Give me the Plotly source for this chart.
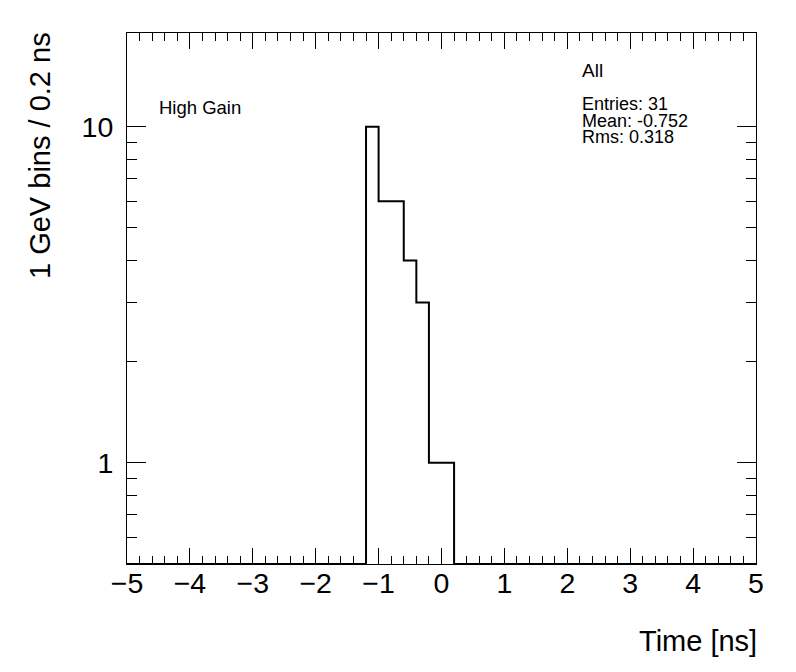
import numpy as np
import plotly.graph_objects as go

# ---- data ----
bin_width = 0.2
x_min, x_max = -5.0, 5.0
bin_lows = [-1.2, -1.0, -0.8, -0.6, -0.4, -0.2, 0.0]
counts = [10, 6, 6, 4, 3, 1, 1]
y_min, y_max = 0.5, 19.0
x_tick_vals = [-5, -4, -3, -2, -1, 0, 1, 2, 3, 4, 5]
y_tick_vals = [1, 10]
y_tick_text = ["1", "10"]
y_minor_vals = [0.6, 0.7, 0.8, 0.9, 2, 3, 4, 5, 6, 7, 8, 9]
label_title = "High Gain"
stats_title = "All"
stats_lines = ["Entries: 31", "Mean: -0.752", "Rms: 0.318"]
x_title = "Time [ns]"
y_title = "1 GeV bins / 0.2 ns"

# ---- build histogram step ----
n_bins = int(round((x_max - x_min) / bin_width))
edges = x_min + bin_width * np.arange(n_bins + 1)
full = np.zeros(n_bins)
for lo, c in zip(bin_lows, counts):
    full[int(round((lo - x_min) / bin_width))] = c
shown = np.where(full > 0, full, y_min)
ys = np.append(shown, shown[-1])

FONT = "Liberation Sans, Arial, Helvetica, sans-serif"

# page offset of the figure (default body margin)
OFF = 8
L, T, R, B = 127, 33, 756, 564  # desired frame in window pixels
W, H = 796, 672
PW, PH = R - L, B - T

fig = go.Figure()
fig.add_trace(go.Scatter(
    x=edges, y=ys, mode="lines", line=dict(shape="hv", color="black", width=2),
    showlegend=False, hoverinfo="skip"))

fig.update_layout(
    width=W, height=H,
    margin=dict(l=L - OFF, r=W + OFF - R, t=T - OFF, b=H + OFF - B),
    paper_bgcolor="white", plot_bgcolor="white",
    font=dict(family=FONT, color="black"),
    showlegend=False,
)
fig.update_xaxes(
    range=[x_min, x_max], tickvals=x_tick_vals,
    showline=True, linecolor="black", linewidth=1, mirror="allticks",
    ticks="inside", ticklen=16, tickwidth=1, tickcolor="black",
    showgrid=False, zeroline=False,
    tickfont=dict(size=28.5, family=FONT, color="black"),
    ticklabelstandoff=-6,
    minor=dict(ticks="inside", dtick=bin_width, tick0=x_min, ticklen=8,
               tickwidth=1, tickcolor="black", showgrid=False),
)
fig.update_yaxes(
    type="log", range=[np.log10(y_min), np.log10(y_max)],
    tickvals=y_tick_vals, ticktext=y_tick_text,
    showline=True, linecolor="black", linewidth=1, mirror="allticks",
    ticks="inside", ticklen=19, tickwidth=1, tickcolor="black",
    showgrid=False, zeroline=False,
    tickfont=dict(size=28.5, family=FONT, color="black"),
    ticklabelstandoff=7,
    minor=dict(ticks="inside", tickvals=y_minor_vals, ticklen=10,
               tickwidth=1, tickcolor="black", showgrid=False),
)

def px(xp):
    return (xp - L) / PW

def py(yp):
    return (B - yp) / PH

ann = []
ann.append(dict(text=x_title, xref="paper", yref="paper", x=1, y=py(641),
                xanchor="right", yanchor="middle", xshift=3, showarrow=False,
                font=dict(size=29, family=FONT, color="black")))
ann.append(dict(text=y_title, xref="paper", yref="paper", x=px(40), y=py(156),
                xanchor="center", yanchor="middle", textangle=-90, showarrow=False,
                font=dict(size=29, family=FONT, color="black")))
ann.append(dict(text=label_title, xref="paper", yref="paper", x=px(157),
                y=py(107), xanchor="left", yanchor="middle", showarrow=False,
                font=dict(size=18.5, family=FONT, color="black")))
ann.append(dict(text=stats_title, xref="paper", yref="paper", x=px(580),
                y=py(71), xanchor="left", yanchor="middle", showarrow=False,
                font=dict(size=19, family=FONT, color="black")))
for i, line in enumerate(stats_lines):
    ann.append(dict(text=line, xref="paper", yref="paper", x=px(580),
                    y=py(104 + 16.5 * i), xanchor="left", yanchor="middle",
                    showarrow=False, font=dict(size=18, family=FONT, color="black")))
fig.update_layout(annotations=ann)

fig.write_html("out.html")
